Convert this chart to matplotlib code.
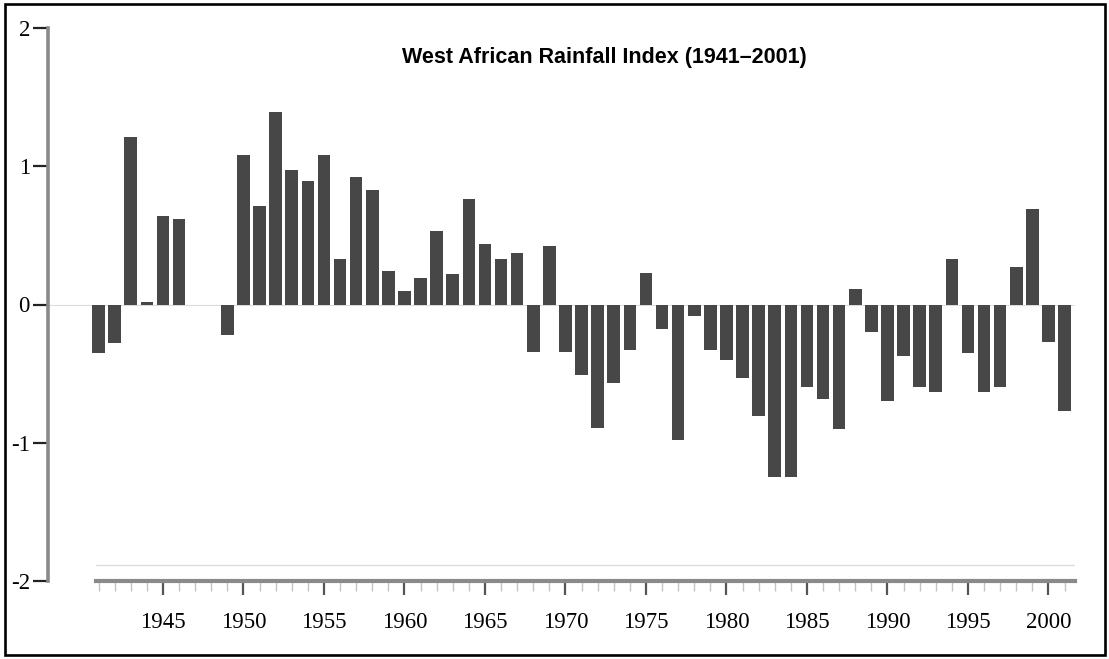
import matplotlib
matplotlib.use("Agg")
import matplotlib.pyplot as plt
from matplotlib.patches import Rectangle

years = list(range(1941, 2002))
rainfall_index = [
    -0.35, -0.28, 1.21, 0.02, 0.64, 0.62, 0.00, 0.00, -0.22, 1.08,   # 1941-1950
    0.71, 1.39, 0.97, 0.89, 1.08, 0.33, 0.92, 0.83, 0.24, 0.10,      # 1951-1960
    0.19, 0.53, 0.22, 0.76, 0.44, 0.33, 0.37, -0.34, 0.42, -0.34,    # 1961-1970
    -0.51, -0.89, -0.57, -0.33, 0.23, -0.18, -0.98, -0.08, -0.33, -0.40,  # 1971-1980
    -0.53, -0.81, -1.25, -1.25, -0.60, -0.68, -0.90, 0.11, -0.20, -0.70,  # 1981-1990
    -0.375, -0.60, -0.63, 0.33, -0.35, -0.63, -0.60, 0.27, 0.69, -0.27,   # 1991-2000
    -0.77,                                                            # 2001
]
xtick_years = [1945, 1950, 1955, 1960, 1965, 1970, 1975, 1980, 1985, 1990, 1995, 2000]
ytick_values = [-2, -1, 0, 1, 2]
ytick_labels = ["-2", "-1", "0", "1", "2"]
title = "West African Rainfall Index (1941\u20132001)"

W, H = 1109, 659
fig = plt.figure(figsize=(W / 100, H / 100), dpi=100)
fig.patch.set_facecolor("white")

ax = fig.add_axes([48 / W, (H - 581) / H, 1027 / W, 553 / H])
ax.set_facecolor("white")

ax.bar(years, rainfall_index, width=0.78, color="#474747", edgecolor="none", zorder=3)
ax.axhline(0, color="#dcdcdc", lw=0.8, zorder=1)
ax.axhline(-1.885, xmin=(96 - 48) / 1027, color="#dcdcdc", lw=1.0, zorder=1)

ax.set_xlim(1937.86, 2001.65)
ax.set_ylim(-2, 2)

for s in ["top", "right"]:
    ax.spines[s].set_visible(False)
ax.spines["left"].set_color("#8a8a8a")
ax.spines["left"].set_linewidth(2.6)
ax.spines["bottom"].set_color("#8a8a8a")
ax.spines["bottom"].set_linewidth(3.0)
ax.spines["bottom"].set_bounds(1940.84, 2001.65)

serif = ["Liberation Serif", "DejaVu Serif"]
ax.set_yticks(ytick_values)
ax.set_yticklabels(ytick_labels, fontfamily=serif, fontsize=16.5)
ax.tick_params(axis="y", direction="out", length=11, width=1.6, color="#222222", pad=2)

ax.set_xticks(xtick_years)
ax.set_xticklabels([str(y) for y in xtick_years], fontfamily=serif, fontsize=16.5)
ax.set_xticks(years, minor=True)
ax.tick_params(axis="x", which="major", direction="out", length=10, width=1.6,
               color="#555555", pad=12)
ax.tick_params(axis="x", which="minor", direction="out", length=7, width=1.0,
               color="#c4c4c4")

fig.text(604 / W, 1 - 58 / H, title, ha="center", va="center",
         fontsize=15.5, fontweight="bold", family=["Liberation Sans", "DejaVu Sans"])

fig.patches.append(Rectangle((5 / W, 4 / H), 1100 / W, 651 / H, transform=fig.transFigure,
                             fill=False, edgecolor="black", linewidth=1.9))

fig.savefig("out.png", dpi=100, facecolor="white")
